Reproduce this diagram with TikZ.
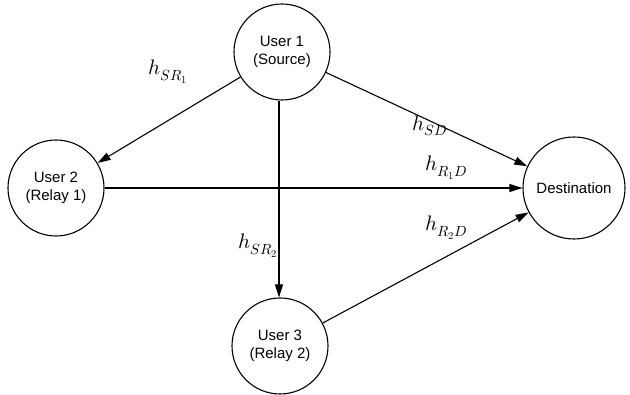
\documentclass[tikz,border=0pt]{standalone}
\usepackage{fontspec}
\setmainfont{Liberation Sans}
\usepackage{unicode-math}
\setmathfont{Latin Modern Math}
\usetikzlibrary{arrows.meta}
\begin{document}
\begin{tikzpicture}[x=1pt,y=-1pt,
  usr/.style={circle,draw,line width=1.1pt,minimum size=96pt,inner sep=0pt,align=center,font=\fontsize{15}{18}\selectfont},
  conn/.style={line width=1.1pt,-{Triangle[length=13pt,width=8pt]}},
  lbl/.style={font=\fontsize{21}{23}\selectfont}]
\useasboundingbox (0,0) rectangle (630,395);
\node[usr] (u1) at (282,52) {User 1\\(Source)};
\node[usr] (u2) at (56,188) {User 2\\(Relay 1)};
\node[usr] (u3) at (280,346) {User 3\\(Relay 2)};
\node[usr,minimum size=102pt] (d) at (574,188) {Destination};
\draw[conn] (u1) -- (u2);
\draw[conn] (u1.south) ++(-3,0) coordinate (u1s) (u1s) -- (u1s |- u3.north);
\draw[conn] (u1) -- (d);
\draw[conn] (u2) -- (d);
\draw[conn] (u3) -- (d);
\node[lbl] (l1) at (168,72) {$h_{SR_1}$};
\node[lbl] (l2) at (430,126) {$h_{SD}$};
\node[lbl] (l3) at (446,168) {$h_{R_1D}$};
\node[lbl] (l4) at (446,228) {$h_{R_2D}$};
\node[lbl] (l5) at (258,246) {$h_{SR_2}$};
\end{tikzpicture}
\end{document}
